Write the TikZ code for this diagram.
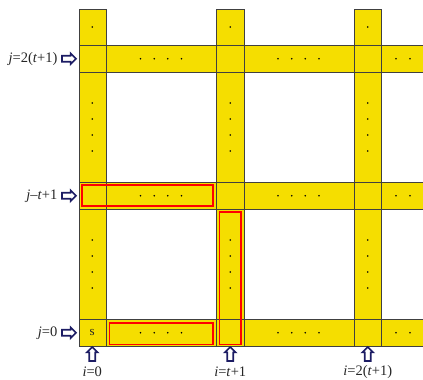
\documentclass[tikz,border=0pt]{standalone}
\usepackage{fontspec}
\setmainfont{Liberation Serif}
\usetikzlibrary{shapes.arrows,positioning}
\definecolor{bandyellow}{RGB}{245,222,0}
\definecolor{arrownavy}{RGB}{28,28,100}
\tikzset{band/.style={fill=bandyellow},gridline/.style={draw=black!75,line width=.8pt},pick/.style={draw=red,line width=1.8pt},
  rarrow/.style={single arrow,draw=arrownavy,fill=white,line width=1.7pt,minimum height=14pt,inner sep=2.1pt,single arrow head extend=2.4pt},
  uarrow/.style={rarrow,shape border rotate=90},
  lbl/.style={font=\fontsize{14.5}{16}\selectfont,text=black!85,inner sep=0pt}}

\begin{document}
\begin{tikzpicture}[x=1pt,y=-1pt]
\useasboundingbox (0,0) rectangle (423,380);
% yellow bands and their cell lines
\foreach \a in {79,216.5,354}{\fill[band] (\a,9) rectangle (\a+27.5,346.5);}
\foreach \b in {45,182,319}{\fill[band] (79,\b) rectangle (423,\b+27.5);}
\foreach \a in {79,216.5,354}{\draw[gridline] (\a,346.5)--(\a,9)--(\a+27.5,9)--(\a+27.5,346.5);}
\foreach \b in {45,182,319}{\draw[gridline] (423,\b)--(79,\b);\draw[gridline] (79,\b+27.5)--(423,\b+27.5);}
% dots
\foreach \cx in {92.25,230.25,367.75}{\fill (\cx,27) circle(.85pt);\foreach \cy in {103,119,135,151,240,256,272,288}{\fill (\cx,\cy) circle(.85pt);}}
\foreach \cy in {58.75,195.75,332.75}{\foreach \cx in {140.5,154.2,167.8,181.5,278,291.7,305.3,319,396,410}{\fill (\cx,\cy) circle(.85pt);}}
\node[lbl,font=\fontsize{13}{15}\selectfont] (start) at (92.25,332.75){s};
% chosen paths
\draw[pick] (82,185) rectangle (213,206);\draw[pick] (109.5,323) rectangle (213,344.5);\draw[pick] (219.5,212) rectangle (241,344.5);
% row markers
\node[rarrow] (aj2) at (67.5,58.75){};\node[lbl,left=3.5pt of aj2] (lj2){\textit{j}=2(\textit{t}+1)};
\node[rarrow] (aj1) at (67.5,195.75){};\node[lbl,left=3.5pt of aj1] (lj1){\textit{j}–\textit{t}+1};
\node[rarrow] (aj0) at (67.5,332.75){};\node[lbl,left=3.5pt of aj0] (lj0){\textit{j}=0};
% column markers
\node[uarrow] (ai0) at (92.25,355.5){};\node[lbl] (li0) at (92.25,372){\textit{i}=0};
\node[uarrow] (ai1) at (230.25,355.5){};\node[lbl] (li1) at (230.25,372){\textit{i}=\textit{t}+1};
\node[uarrow] (ai2) at (367.75,355.5){};\node[lbl] (li2) at (367.75,372){\textit{i}=2(\textit{t}+1)};
\end{tikzpicture}
\end{document}
